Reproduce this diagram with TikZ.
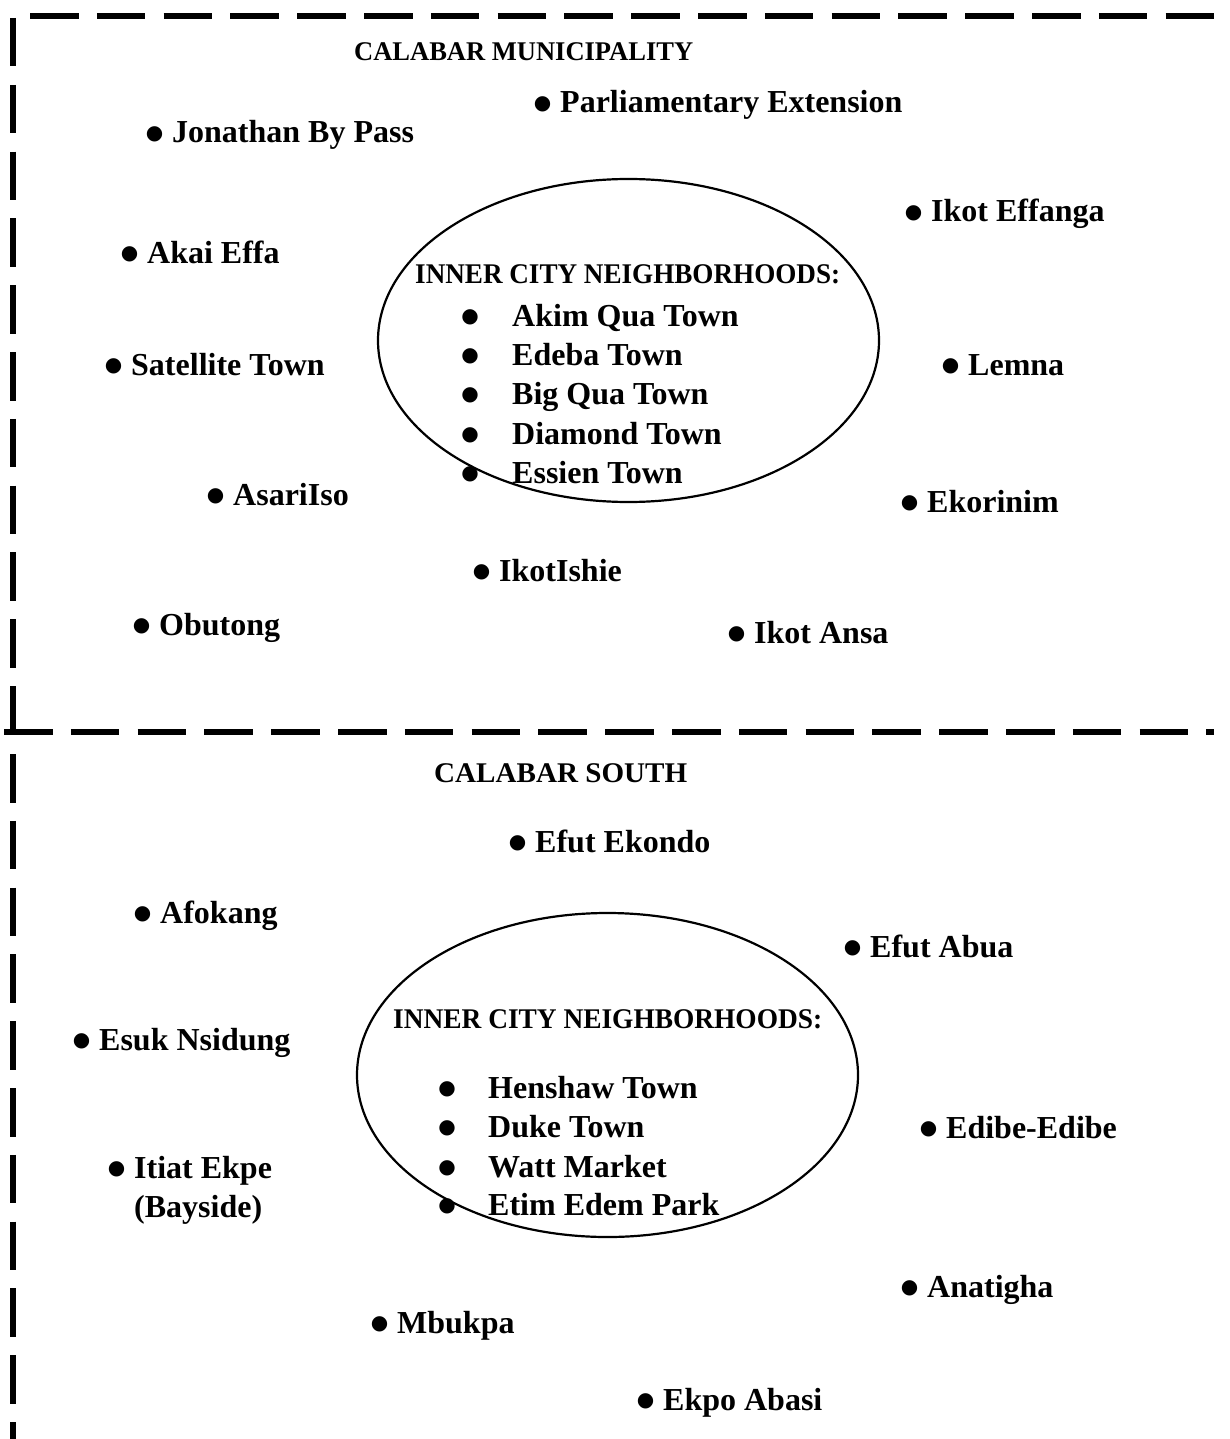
\documentclass[tikz,border=0pt]{standalone}
\usepackage{fontspec}
\usepackage{graphicx}
\setmainfont{Liberation Serif}
\newfontfamily\symfont{DejaVu Sans}
\newcommand\bigbul{\makebox[0pt]{\raisebox{3.5pt}{\symfont\fontsize{20}{20}\selectfont ●}}}
\newcommand\bul{\llap{\bigbul\hspace{17.5pt}}}
\newcommand\ibulA{\llap{\bigbul\hspace{42pt}}}
\newcommand\ibulB{\llap{\bigbul\hspace{41pt}}}
\tikzset{
  lbl/.style={anchor=base west, inner sep=0pt, font=\fontsize{32}{38}\selectfont\bfseries},
  hdr/.style={anchor=base west, inner sep=0pt, font=\bfseries},
  border/.style={line width=6pt, dash pattern=on 48.5pt off 18.3pt},
  zone/.style={line width=2.2pt}
}
\begin{document}
\begin{tikzpicture}[x=1pt,y=-1pt]
\useasboundingbox (0,0) rectangle (1229,1439);
% dashed borders
\draw[border] (30,16) -- (1216,16);
\draw[border] (13,18) -- (13,733);
\draw[border] (4,732) -- (1214,732);
\draw[border] (13,754) -- (13,1439);
% ellipses
\draw[zone] (628.5,340.5) ellipse [x radius=250.5pt, y radius=161.5pt];
\draw[zone] (607.5,1075) ellipse [x radius=250.5pt, y radius=162pt];
% upper zone
\node[hdr] (muni) at (354,61) {\resizebox{339pt}{\height}{\fontsize{27}{32}\selectfont\bfseries CALABAR MUNICIPALITY}};
\node[lbl] (parl) at (560,113) {\bul Parliamentary Extension};
\node[lbl] (jon) at (172,143) {\bul Jonathan By Pass};
\node[lbl] (ikeff) at (931,222) {\bul Ikot Effanga};
\node[lbl] (akai) at (147,263) {\bul Akai Effa};
\node[lbl] (sat) at (131,375) {\bul Satellite Town};
\node[lbl] (lemna) at (968,375) {\bul Lemna};
\node[lbl] (asari) at (233,505) {\bul AsariIso};
\node[lbl] (ekor) at (927,512) {\bul Ekorinim};
\node[lbl] (ikish) at (499,581) {\bul IkotIshie};
\node[lbl] (obut) at (159,635) {\bul Obutong};
\node[lbl] (ikansa) at (754,643) {\bul Ikot Ansa};
% upper inner list
\node[hdr] (innerA) at (415,283) {\resizebox{425pt}{\height}{\fontsize{28.5}{32}\selectfont\bfseries INNER CITY NEIGHBORHOODS:}};
\node[lbl] (akim) at (512,326) {\ibulA Akim Qua Town};
\node[lbl] (edeba) at (512,365) {\ibulA Edeba Town};
\node[lbl] (bigqua) at (512,404) {\ibulA Big Qua Town};
\node[lbl] (diamond) at (512,444) {\ibulA Diamond Town};
\node[lbl] (essien) at (512,483) {\ibulA Essien Town};
% lower zone
\node[hdr] (south) at (434,782) {\resizebox{253pt}{\height}{\fontsize{28.5}{32}\selectfont\bfseries CALABAR SOUTH}};
\node[lbl] (efek) at (535,852) {\bul Efut Ekondo};
\node[lbl] (afok) at (160,923) {\bul Afokang};
\node[lbl] (efab) at (870,957) {\bul Efut Abua};
\node[lbl] (esuk) at (99,1050) {\bul Esuk Nsidung};
\node[lbl] (edibe) at (946,1138) {\bul Edibe-Edibe};
\node[lbl] (itiat) at (134,1178) {\bul Itiat Ekpe};
\node[lbl] (bayside) at (134,1217) {(Bayside)};
\node[lbl] (anat) at (927,1297) {\bul Anatigha};
\node[lbl] (mbuk) at (397,1333) {\bul Mbukpa};
\node[lbl] (ekpo) at (663,1410) {\bul Ekpo Abasi};
% lower inner list
\node[hdr] (innerB) at (393,1028) {\resizebox{429pt}{\height}{\fontsize{28.5}{32}\selectfont\bfseries INNER CITY NEIGHBORHOODS:}};
\node[lbl] (henshaw) at (488,1098) {\ibulB Henshaw Town};
\node[lbl] (duke) at (488,1137) {\ibulB Duke Town};
\node[lbl] (watt) at (488,1177) {\ibulB Watt Market};
\node[lbl] (etim) at (488,1215) {\ibulB Etim Edem Park};
\end{tikzpicture}
\end{document}
